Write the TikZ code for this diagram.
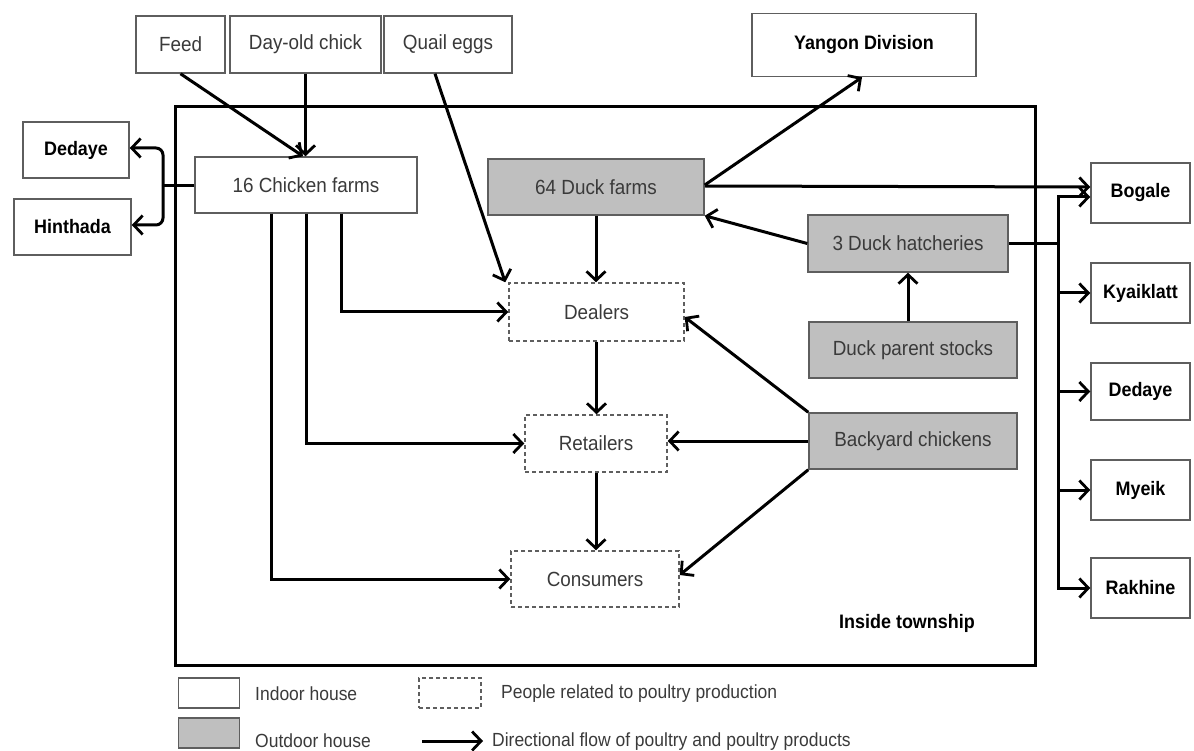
\documentclass[tikz,border=0pt]{standalone}
\usepackage{fontspec}
\setmainfont[FakeStretch=0.92]{Liberation Sans}
\usetikzlibrary{arrows.meta,positioning}
\definecolor{boxgrey}{HTML}{BFBFBF}
\definecolor{edgegrey}{HTML}{5E5E5E}
\definecolor{txtgrey}{HTML}{3A3A3A}
\tikzset{
  base/.style={draw=edgegrey, line width=1.5pt, inner sep=0pt, align=center,
    font=\fontsize{20.5}{24}\selectfont, text=txtgrey},
  indoor/.style={base, fill=white},
  outdoor/.style={base, fill=boxgrey},
  people/.style={base, dashed, dash pattern=on 4pt off 3pt, draw=edgegrey},
  place/.style={base, fill=white, text=black, font=\fontsize{19.5}{24}\selectfont\bfseries},
  arr/.style={line width=3pt, -{Straight Barb[length=9pt,width=19pt,line width=2.8pt]}},
  ln/.style={line width=3pt},
  legtext/.style={anchor=west, inner sep=0pt, text=txtgrey, font=\fontsize{19}{22}\selectfont}
}
\begin{document}
\begin{tikzpicture}[x=1pt,y=-1pt]
\useasboundingbox (0,0) rectangle (1194,751);
% township frame
\draw[line width=3pt] (175,107) rectangle (1035,665);
\node[anchor=center, inner sep=0pt, font=\fontsize{19.5}{22}\selectfont\bfseries] (township) at (907,623) {Inside township};

% top inputs
\node[indoor, minimum width=89pt, minimum height=57pt] (feed) at (180.5,44.5) {Feed};
\node[indoor, minimum width=151pt, minimum height=57pt] (doc) at (305.5,44.5) {Day-old chick};
\node[indoor, minimum width=128pt, minimum height=57pt] (quail) at (448,44.5) {Quail eggs};
\node[place, minimum width=224pt, minimum height=63pt] (yangon) at (864,45) {Yangon Division};

% left outputs
\node[place, minimum width=106pt, minimum height=56pt] (dedL) at (76,150) {Dedaye};
\node[place, minimum width=117pt, minimum height=56pt] (hin) at (72.5,227) {Hinthada};

% farms
\node[indoor, minimum width=222pt, minimum height=56pt] (chick) at (306,185) {16 Chicken farms};
\node[outdoor, minimum width=216pt, minimum height=56pt] (duck) at (596,187) {64 Duck farms};
\node[outdoor, minimum width=200pt, minimum height=57pt] (hatch) at (908,243.5) {3 Duck hatcheries};
\node[outdoor, minimum width=208pt, minimum height=56pt] (parent) at (913,350) {Duck parent stocks};
\node[outdoor, minimum width=208pt, minimum height=56pt] (backyard) at (913,441) {Backyard chickens};

% people
\node[people, minimum width=175pt, minimum height=58pt] (dealers) at (596.5,312) {Dealers};
\node[people, minimum width=142pt, minimum height=57pt] (retail) at (596,443.5) {Retailers};
\node[people, minimum width=168pt, minimum height=56pt] (consum) at (595,579) {Consumers};

% right outputs
\node[place, minimum width=99pt, minimum height=60pt] (bogale) at (1140.5,193) {Bogale};
\node[place, minimum width=99pt, minimum height=60pt] (kyaik) at (1140.5,293) {Kyaiklatt};
\node[place, minimum width=99pt, minimum height=57pt] (dedR) at (1140.5,391.5) {Dedaye};
\node[place, minimum width=99pt, minimum height=60pt] (myeik) at (1140.5,490) {Myeik};
\node[place, minimum width=99pt, minimum height=60pt] (rakhine) at (1140.5,588) {Rakhine};

% connectors: inputs
\draw[arr] (feed.south) -- ([xshift=-3pt]chick.north);
\draw[arr] (doc.south) -- (doc.south |- chick.north);
\draw[arr] ([xshift=-13pt]quail.south) -- ([xshift=-3pt]dealers.north west);

% chicken farms to left outputs
\coordinate (jn) at (163,186);
\draw[ln] (chick.west |- jn) -- (jn);
\draw[arr, rounded corners=7pt] (jn) -- (163,148) -- (dedL.east |- 0,148);
\draw[arr, rounded corners=7pt] (jn) -- (163,225) -- (hin.east |- 0,225);

% chicken farms to people
\draw[arr] ([xshift=35pt]chick.south) |- (dealers.west);
\draw[arr] (chick.south) |- (retail.west);
\draw[arr] ([xshift=-35pt]chick.south) |- (consum.west);

% duck farms
\draw[arr] ([yshift=2pt]duck.east) -- ([xshift=-2pt]yangon.south);
\draw[arr] ([yshift=1pt]duck.east) -- ([yshift=6pt]bogale.west);
\draw[arr] (duck.south) -- (duck.south |- dealers.north);
\draw[arr] (hatch.west) -- (duck.south east);
\draw[arr] (hatch.south |- parent.north) -- (hatch.south);

% people chain
\draw[arr] (dealers.south) -- (dealers.south |- retail.north);
\draw[arr] (retail.south) -- (retail.south |- consum.north);

% backyard chickens
\draw[arr] (backyard.north west) -- ([yshift=-5pt]dealers.east);
\draw[arr] (backyard.west) -- (backyard.west -| retail.east);
\draw[arr] (backyard.south west) -- ([yshift=4pt]consum.east);

% hatcheries distribution
\coordinate (dist) at (1058,243.5);
\draw[ln] (hatch.east) -- (dist);
\draw[arr] (dist) |- ([yshift=-4pt]bogale.west);
\draw[arr] (dist) |- (kyaik.west);
\draw[arr] (dist) |- (dedR.west);
\draw[arr] (dist) |- (myeik.west);
\draw[arr] (dist) |- (rakhine.west);

% legend
\node[indoor, minimum width=61pt, minimum height=30pt] (legIn) at (209,693) {};
\node[legtext] (legInT) at (255,694) {Indoor house};
\node[outdoor, minimum width=61pt, minimum height=30pt] (legOut) at (209,733) {};
\node[legtext] (legOutT) at (255,741) {Outdoor house};
\node[people, minimum width=62pt, minimum height=30pt] (legPe) at (450,693) {};
\node[legtext] (legPeT) at (501,694) {People related to poultry production};
\coordinate (legA1) at (422,741);
\coordinate (legA2) at (483,741);
\draw[arr] (legA1) -- (legA2);
\node[legtext] (legArT) at (492,742) {Directional flow of poultry and poultry products};
\end{tikzpicture}
\end{document}
